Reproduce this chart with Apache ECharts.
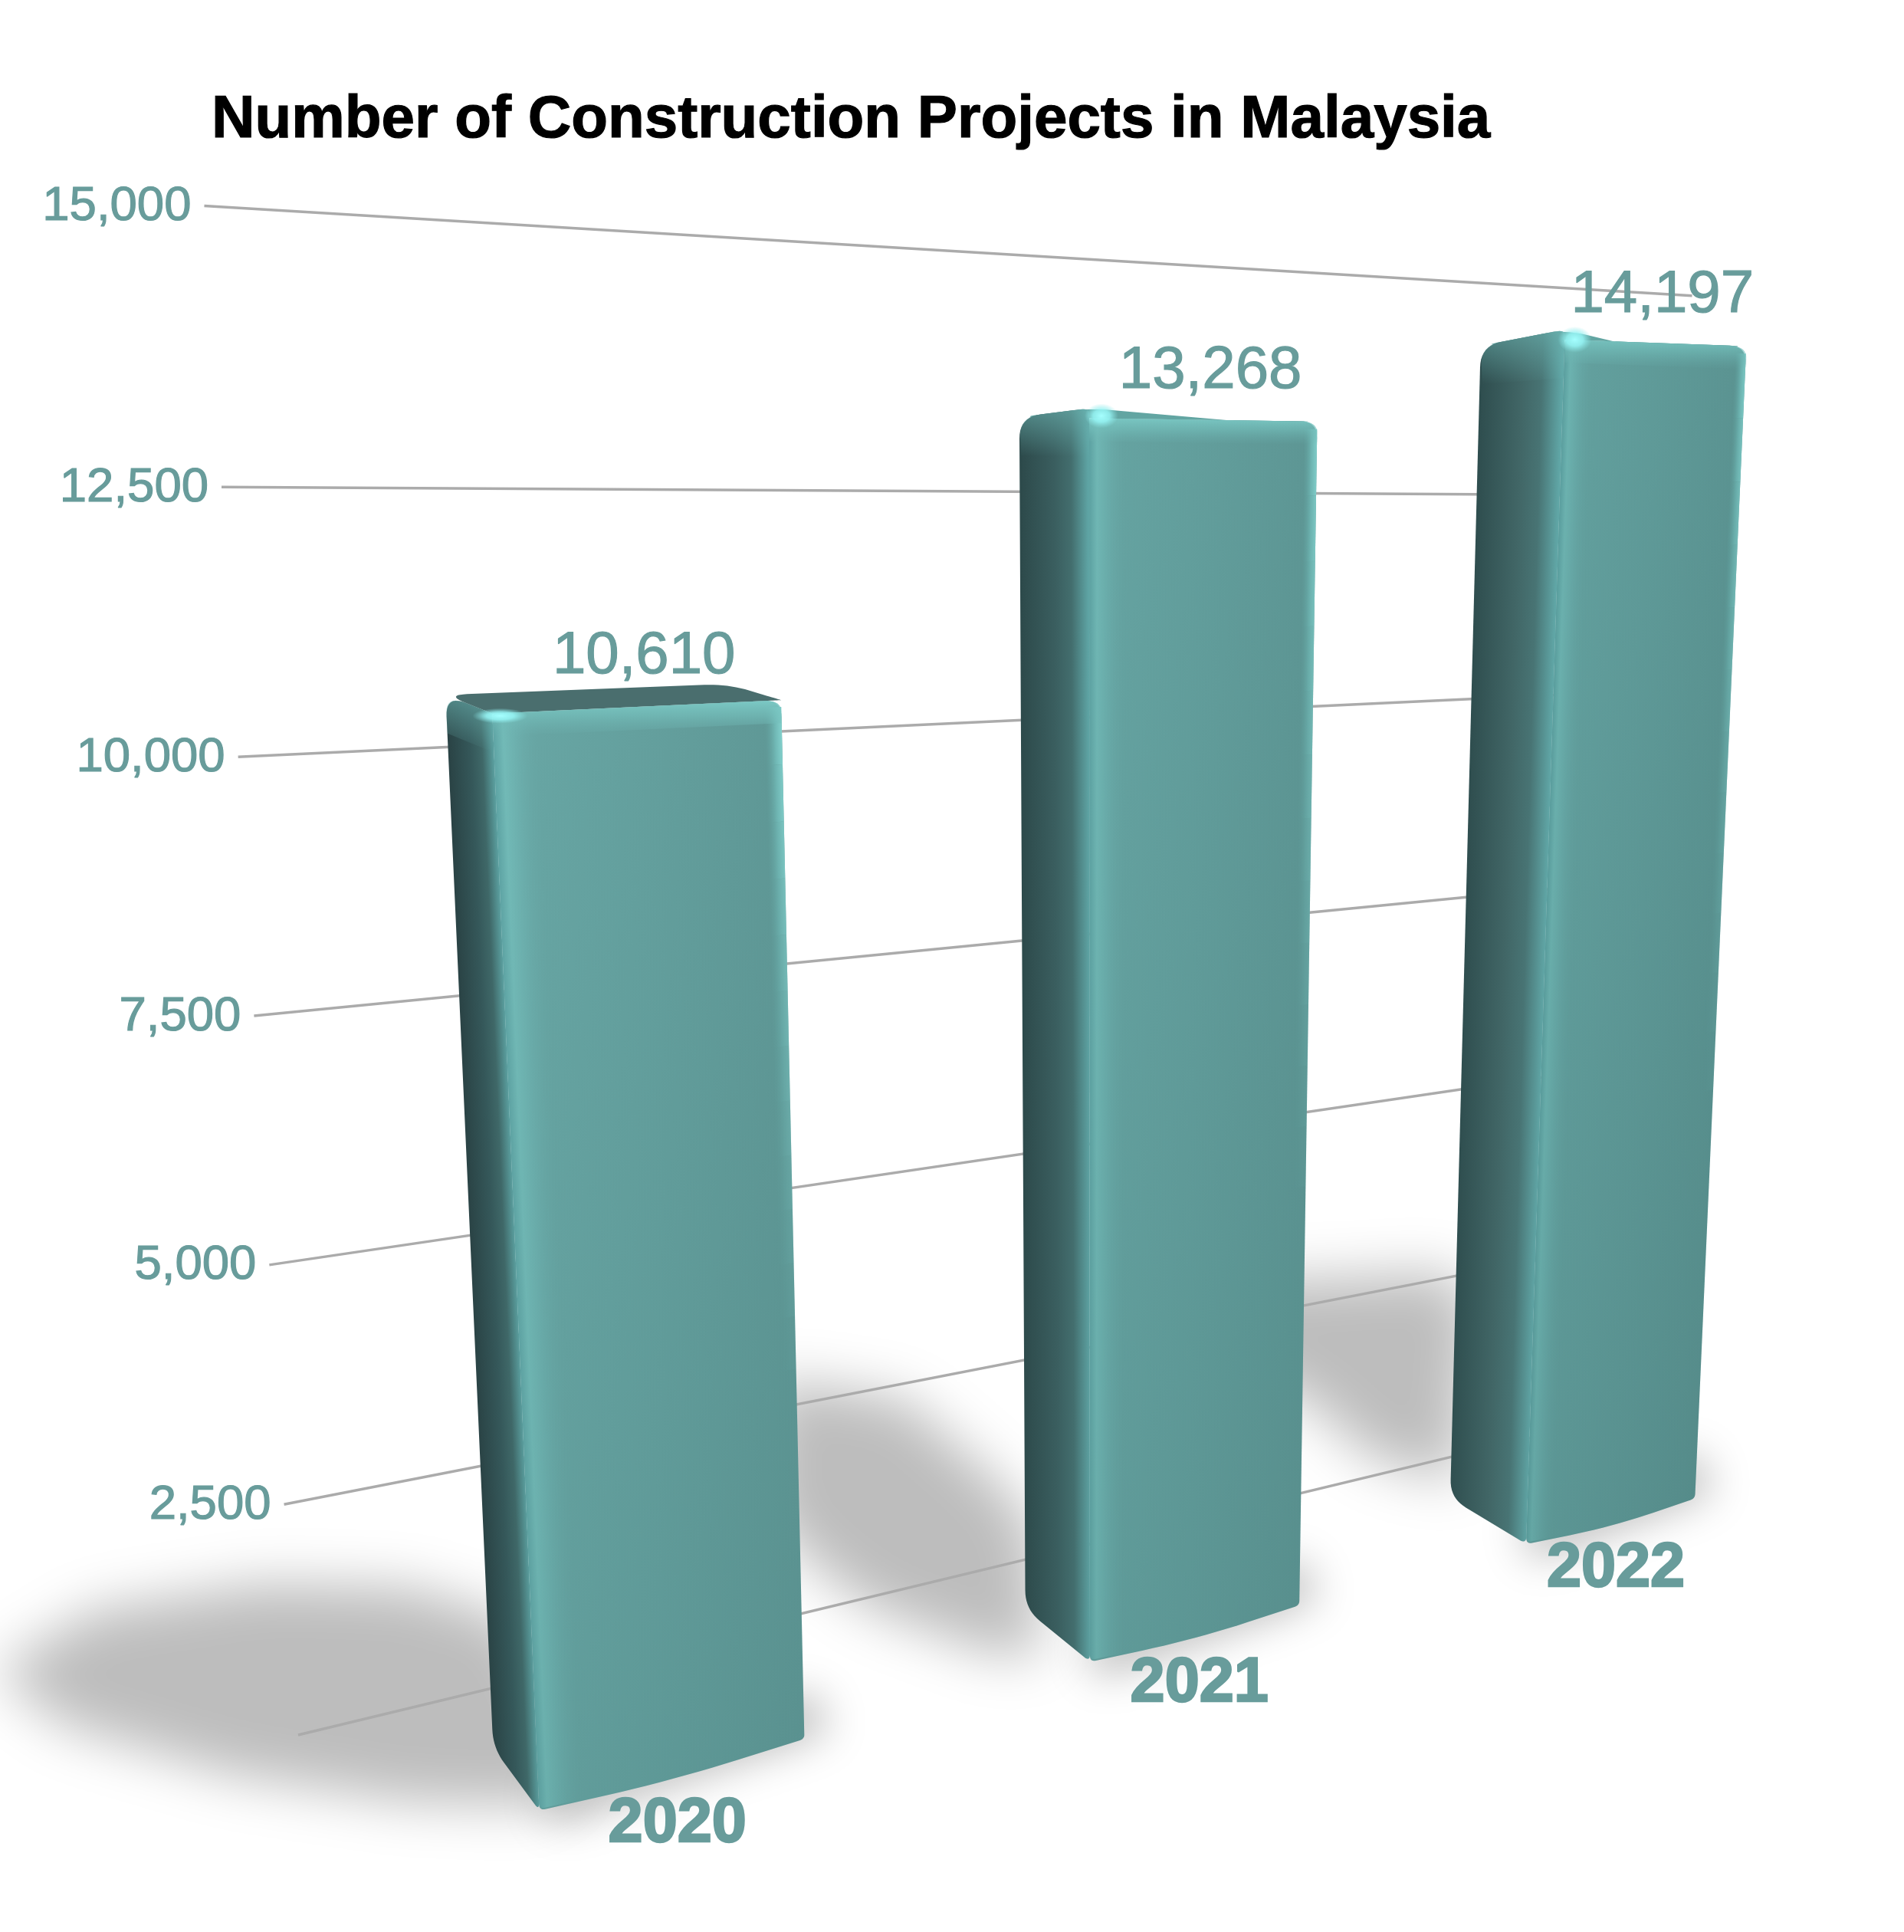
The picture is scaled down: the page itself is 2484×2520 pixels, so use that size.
<!DOCTYPE html>
<html><head><meta charset="utf-8">
<style>html,body{margin:0;padding:0;background:#fff}#c{width:2484px;height:2520px}</style>
<script src="https://cdn.jsdelivr.net/npm/echarts@6/dist/echarts.min.js"></script>
</head><body><div id="c"></div>
<script>
const titleText = 'Number of Construction Projects in Malaysia';
const categories = ['2020', '2021', '2022'];
const projects = [10610, 13268, 14197];
const valueLabels = ['10,610', '13,268', '14,197'];
const axisTicks = [0, 2500, 5000, 7500, 10000, 12500, 15000];
const tickLabels = ['', '2,500', '5,000', '7,500', '10,000', '12,500', '15,000'];

const TEAL = '#689c9b', FONT = '"Liberation Sans", Arial, sans-serif';
const barRatio = 0.47;

// perspective: unit square of the grid -> screen quad
function persp(bl, br, tl, tr) {
  const dx1 = br[0] - tr[0], dx2 = tl[0] - tr[0], dx3 = bl[0] - br[0] - tl[0] + tr[0];
  const dy1 = br[1] - tr[1], dy2 = tl[1] - tr[1], dy3 = bl[1] - br[1] - tl[1] + tr[1];
  const det = dx1 * dy2 - dx2 * dy1;
  const g = (dx3 * dy2 - dx2 * dy3) / det, h = (dx1 * dy3 - dx3 * dy1) / det;
  const a = br[0] * (1 + g) - bl[0], b = tl[0] * (1 + h) - bl[0];
  const d = br[1] * (1 + g) - bl[1], e = tl[1] * (1 + h) - bl[1];
  return (s, t) => { const w = 1 + g * s + h * t; return [(a * s + b * t + bl[0]) / w, (d * s + e * t + bl[1]) / w]; };
}
const WALL = persp([389, 2263], [2218, 1822], [266.5, 268.5], [2294, 391]);
const FRONT = persp([485, 2420.5], [2332, 1922], [364, 252], [2412, 366]);
const BACK = persp([429, 2336], [2233, 1865], [309, 257], [2300.6, 381]);

const add = (p, dx, dy) => [p[0] + dx, p[1] + dy];
const mix = (a, b, k) => [a[0] + (b[0] - a[0]) * k, a[1] + (b[1] - a[1]) * k];

function roundPoly(pts, radii) {
  const out = [], n = pts.length;
  for (let i = 0; i < n; i++) {
    const p = pts[i], r = radii[i] || 0;
    if (!r) { out.push(p); continue; }
    const a = pts[(i + n - 1) % n], b = pts[(i + 1) % n];
    const la = Math.hypot(a[0] - p[0], a[1] - p[1]), lb = Math.hypot(b[0] - p[0], b[1] - p[1]);
    const p0 = mix(p, a, Math.min(r / la, .5)), p1 = mix(p, b, Math.min(r / lb, .5));
    for (let k = 0; k <= 10; k++) {
      const u = k / 10;
      out.push([(1 - u) * (1 - u) * p0[0] + 2 * u * (1 - u) * p[0] + u * u * p1[0],
                (1 - u) * (1 - u) * p0[1] + 2 * u * (1 - u) * p[1] + u * u * p1[1]]);
    }
  }
  return out;
}
function across(aT, aB, bT, bB, stops) {
  const a = mix(aT, aB, .5), b = mix(bT, bB, .5);
  let dx = (aT[0] - aB[0]) + (bT[0] - bB[0]), dy = (aT[1] - aB[1]) + (bT[1] - bB[1]);
  const l = Math.hypot(dx, dy); dx /= l; dy /= l;
  const vx = b[0] - a[0], vy = b[1] - a[1], dot = vx * dx + vy * dy;
  return new echarts.graphic.LinearGradient(a[0], a[1], a[0] + vx - dot * dx, a[1] + vy - dot * dy,
    stops.map(s => ({ offset: s[0], color: s[1] })), true);
}
const down = (y0, y1, stops) => new echarts.graphic.LinearGradient(0, y0, 0, y1,
  stops.map(s => ({ offset: s[0], color: s[1] })), true);
const poly = (points, fill, extra) => ({ type: 'polygon', shape: { points }, style: Object.assign({ fill }, extra || {}), silent: true });

const sideStops = [
  [[0, '#2a4345'], [.5, '#35585a'], [.75, '#3f6868'], [1, '#5a9e9e']],
  [[0, '#2d4a4b'], [.5, '#3a5e5f'], [.75, '#436e6e'], [1, '#5ea4a4']],
  [[0, '#2f4e4f'], [.5, '#416666'], [.75, '#487474'], [1, '#60a6a6']]
];
const frontTint = [0, .03, .08];
const frontInset = [0, .03, .04];
const rightTrim = [.025, 0, 0];
const specSpot = [[10, 3, 36, 10], [16, -3, 22, 16], [13, 0, 22, 17]];
const topFill = ['#4a6e6e', '#62a5a2', '#62a5a2'];

function barItem(params, api) {
  const i = api.value(0), v = api.value(1), r = params.coordSys;
  const c = api.coord([i, v]), bw = api.size([1, 0])[0] * barRatio;
  const s0 = (c[0] - bw / 2 - r.x) / r.width, sE = (c[0] + bw / 2 - r.x) / r.width;
  const t = (r.y + r.height - c[1]) / r.height, ds = sE - s0, s1 = sE - ds * rightTrim[i];
  const sF = s0 + ds * frontInset[i];
  const FLt = FRONT(sF, t), FRt = FRONT(s1, t), FLb = FRONT(sF, 0), FRb = FRONT(s1, 0);
  const BLt = BACK(s0, t), BRt = BACK(s1, t), BLb = BACK(s0, 0);
  const kids = [];
  // top face, with the bevel's crest over the front corner
  const crest = add(FLt, 0, i ? -13 : 0);
  kids.push(poly(roundPoly([BLt, i ? crest : BRt, i ? BRt : FRt, FRt, FLt], [28, 30, 20, 22, 0]), topFill[i]));
  // left face
  kids.push(poly(roundPoly([BLt, crest, FLt, FLb, BLb], [28, 14, 0, 10, 24]),
    across(BLt, BLb, FLt, FLb, sideStops[i])));
  kids.push(poly(roundPoly([BLt, crest, FLt, add(FLt, 0, 50), add(BLt, 2, 50)], [28, 14, 0, 0, 0]),
    down(Math.min(BLt[1], crest[1]), Math.max(BLt[1], FLt[1]) + 50, [[0, 'rgba(110,185,182,.6)'], [1, 'rgba(110,185,182,0)']])));
  // front face
  const midB = add(mix(FLb, FRb, .5), 2, 7);
  const fp = roundPoly([FLt, FRt, FRb, midB, FLb], [6, 22, 6, 160, 8]);
  const sB = sF + ds * .15;
  const B_t = FRONT(sB, t), B_b = FRONT(sB, 0);
  kids.push(poly(fp, across(FLt, FLb, FRt, FRb, [[0, '#68a7a5'], [.5, '#64a09e'], [1, '#5f9896']])));
  // bevels on the front face
  kids.push(poly(roundPoly([FLt, B_t, B_b, add(FLb, 0, -2)], [6, 0, 0, 8]),
    across(FLt, FLb, B_t, B_b, [[0, '#60a6a6'], [.2, '#72bab7'], [.5, '#6cafad'], [1, 'rgba(104,167,165,0)']])));
  const sR = s1 - ds * .06, tSteps = 12;
  for (let k = 0; k < tSteps; k++) {
    const ta = t * (1 - k / tSteps * .62 - .006), tb = t * (1 - (k + 1) / tSteps * .62 - .006);
    const a = FRONT(sR, ta), b = FRONT(s1, ta), c2 = FRONT(s1, tb), d = FRONT(sR, tb);
    kids.push(poly([a, b, c2, d], across(a, d, b, c2, [[0, 'rgba(100,165,162,0)'], [.6, '#70b8b5'], [1, '#82d0cc']]),
      { opacity: Math.pow(1 - k / tSteps, 1.1) }));
  }
  // top highlight band
  kids.push(poly(roundPoly([FLt, FRt, add(FRt, 0, 30), add(FLt, 0, 30)], [0, 22, 0, 0]),
    down(Math.min(FLt[1], FRt[1]), Math.max(FLt[1], FRt[1]) + 30, [[0, '#7ccac6'], [.45, 'rgba(118,194,190,.6)'], [1, 'rgba(110,180,178,0)']])));
  // tint toward the foot of the bar
  kids.push(poly(fp, down(FLt[1], FLb[1], [[0, 'rgba(40,90,90,' + frontTint[i] + ')'], [1, 'rgba(40,80,80,' + (frontTint[i] + .1) + ')']])));
  // specular spot
  const sp = specSpot[i];
  kids.push({ type: 'circle', x: FLt[0] + sp[0], y: FLt[1] + sp[1], scaleX: sp[2], scaleY: sp[3], shape: { cx: 0, cy: 0, r: 1 }, silent: true,
    style: { fill: new echarts.graphic.RadialGradient(.5, .5, .5, [
      { offset: 0, color: 'rgba(165,255,255,1)' }, { offset: .5, color: 'rgba(150,245,245,.85)' }, { offset: 1, color: 'rgba(140,230,230,0)' }]) } });
  return { type: 'group', children: kids };
}

function wallItem(params, api) {
  const r = params.coordSys, p = api.coord([0, api.value(1)]);
  const t = (r.y + r.height - p[1]) / r.height;
  const a = WALL(0, t), b = WALL(t > .95 ? .94 : .96, t);
  return { type: 'line', shape: { x1: a[0], y1: a[1], x2: b[0], y2: b[1] }, silent: true,
    style: { stroke: '#ababab', lineWidth: 3.5 } };
}
function tickItem(params, api) {
  const r = params.coordSys, idx = params.dataIndex, p = api.coord([0, api.value(1)]);
  const t = (r.y + r.height - p[1]) / r.height, a = WALL(0, t);
  return { type: 'text', silent: true, style: { x: a[0] - 17, y: a[1] + 1, text: tickLabels[idx], fill: TEAL,
    stroke: TEAL, lineWidth: 1.2, fontFamily: FONT, fontSize: 63.5, align: 'right', verticalAlign: 'middle' } };
}
const valueNudge = [[-1, -65], [10, -63], [11, -62]];
function valueLabelItem(params, api) {
  const r = params.coordSys, i = api.value(0), c = api.coord([i, api.value(1)]);
  const s = (c[0] - r.x) / r.width, t = (r.y + r.height - c[1]) / r.height, p = FRONT(s, t);
  return { type: 'text', silent: true, style: { x: p[0] + valueNudge[i][0], y: p[1] + valueNudge[i][1], text: valueLabels[i], fill: TEAL,
    stroke: TEAL, lineWidth: 1.2, fontFamily: FONT, fontSize: 78, align: 'center', verticalAlign: 'middle' } };
}
const catNudge = [[-2, 67], [7, 66], [9, 62]];
function catLabelItem(params, api) {
  const r = params.coordSys, i = api.value(0), c = api.coord([i, 0]);
  const s = (c[0] - r.x) / r.width, p = FRONT(s, 0);
  return { type: 'text', silent: true, style: { x: p[0] + catNudge[i][0], y: p[1] + catNudge[i][1], text: categories[i], fill: TEAL,
    stroke: TEAL, lineWidth: 2.5, fontFamily: FONT, fontWeight: 'bold', fontSize: 81, align: 'center', verticalAlign: 'middle' } };
}
// soft floor shadows, outlined relative to each bar's rear foot
const shadowOutlines = [
  [[-650, -100], [-520, -180], [-300, -215], [-110, -210], [20, -170], [110, 20], [65, 75], [-110, 70], [-340, 35], [-560, -30]],
  [[-330, -300], [-160, -275], [-40, -170], [10, -110], [20, 60], [-40, 60], [-200, 0], [-280, -60], [-340, -130]],
  [[-300, -280], [0, -295], [30, -250], [10, -20], [-100, -50], [-190, -130], [-300, -190]]
];
function shadowItem(params, api) {
  const r = params.coordSys, i = api.value(0), c = api.coord([i, 0]);
  const bw = api.size([1, 0])[0] * barRatio, s0 = (c[0] - bw / 2 - r.x) / r.width;
  const f = BACK(s0, 0), far = 6000;
  const pts = shadowOutlines[i].map(o => [f[0] + o[0] - far, f[1] + o[1]]);
  const kids = [poly(pts, '#bcbcbc', { shadowBlur: 70, shadowColor: '#bdbdbd', shadowOffsetX: far })];
  const s1 = (c[0] + bw / 2 - r.x) / r.width, a = FRONT(s0, 0), b = FRONT(s1, 0);
  kids.push(poly([add(a, -far, -30), add(b, -far, -60), add(b, 25 - far, -10), add(a, 20 - far, 18)], '#000',
    { shadowBlur: 55, shadowColor: 'rgba(0,0,0,.28)', shadowOffsetX: far }));
  return { type: 'group', children: kids };
}

const barData = projects.map((v, i) => [i, v]);
const tickData = axisTicks.map(v => [0, v]);
const custom = (renderItem, data, z) => ({ type: 'custom', coordinateSystem: 'cartesian2d', renderItem, data, z, clip: false, silent: true, animation: false });

const chart = echarts.init(document.getElementById('c'), null, { renderer: 'canvas', width: 2484, height: 2520 });
chart.setOption({
  backgroundColor: '#ffffff',
  animation: false,
  title: { text: titleText, left: 276, top: 118, itemGap: 0, padding: 0,
    textStyle: { color: '#000', fontFamily: FONT, fontWeight: 'bold', fontSize: 78.2, textBorderColor: '#000', textBorderWidth: 1.2 } },
  grid: { left: 100, right: 100, top: 100, bottom: 100, show: false },
  xAxis: { type: 'category', data: categories, show: false },
  yAxis: { type: 'value', min: 0, max: 15000, interval: 2500, show: false },
  series: [
    custom(shadowItem, barData, 1),
    custom(wallItem, tickData, 2),
    custom(tickItem, tickData, 3),
    custom(barItem, barData, 4),
    custom(valueLabelItem, barData, 5),
    custom(catLabelItem, barData, 5)
  ]
});
</script></body></html>
